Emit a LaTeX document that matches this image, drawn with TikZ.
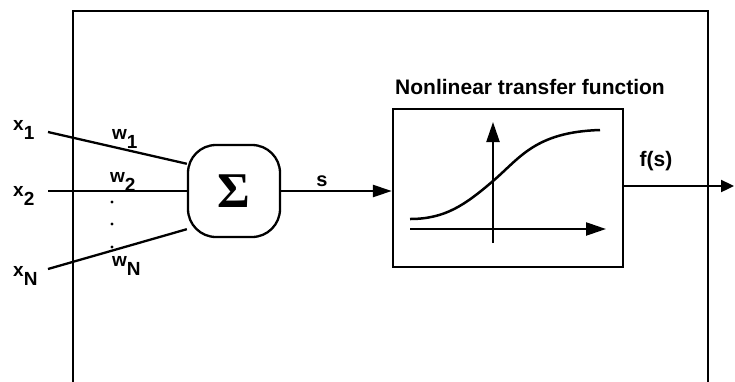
\documentclass[tikz,border=0pt]{standalone}
\usepackage{fontspec}
\setmainfont{Liberation Sans}
\newfontfamily\sigmafont{Liberation Serif}
\usetikzlibrary{arrows.meta}
\newcommand\sublab[2]{#1\raisebox{-9pt}{#2}}
\begin{document}
\begin{tikzpicture}[x=1pt,y=-1pt,
  conn/.style={line width=2.3pt},
  frame/.style={line width=2.6pt},
  lab/.style={inner sep=0pt,font=\fontsize{19}{19}\selectfont\bfseries},
  biglab/.style={inner sep=0pt,font=\fontsize{21}{21}\selectfont\bfseries},
  bigtip/.style={-{Triangle[length=19pt,width=12pt]}},
  smalltip/.style={-{Triangle[length=13pt,width=12pt]}},
  axtip/.style={-{Triangle[length=20pt,width=13pt]}},
  sumbox/.style={draw,line width=2.3pt,rounded corners=28pt,minimum width=92pt,minimum height=92pt,inner sep=0pt},
  tfbox/.style={draw,line width=2.3pt,minimum width=230pt,minimum height=158pt,inner sep=0pt}]
\useasboundingbox (0,0) rectangle (735,381);
% outer frame (open at the bottom)
\coordinate (fbl) at (73,383);
\coordinate (ftl) at (73,11);
\coordinate (ftr) at (708,11);
\coordinate (fbr) at (708,383);
\draw[frame] (fbl) -- (ftl) -- (ftr) -- (fbr);
% summation node
\node[sumbox] (sig) at (234,191) {\fontsize{50}{52}\sigmafont\bfseries\selectfont Σ};
% transfer function box
\node[tfbox] (tf) at (508,188) {};
\node[biglab,anchor=base] (title) at (530,94) {Nonlinear transfer function};
% inputs
\coordinate (x1s) at (48,132);
\coordinate (x2s) at (48,191);
\coordinate (xNs) at (48,269);
\draw[conn] (x1s) -- (sig.150);
\draw[conn] (x2s) -- (sig.west |- x2s);
\draw[conn] (xNs) -- (sig.219);
\node[lab,anchor=base west] (x1) at (13,130) {\sublab{x}{1}};
\node[lab,anchor=base west] (x2) at (13,196) {\sublab{x}{2}};
\node[lab,anchor=base west] (xN) at (13,276) {\sublab{x}{N}};
\node[lab,anchor=base west] (w1) at (112,139) {\sublab{w}{1}};
\node[lab,anchor=base west] (w2) at (110,182) {\sublab{w}{2}};
\node[lab,anchor=base west] (wN) at (112,266) {\sublab{w}{N}};
\fill (112,202) circle (1.7pt);
\fill (112,224) circle (1.7pt);
\fill (112,247) circle (1.7pt);
% s connection
\draw[conn,bigtip] (sig.east) -- (sig.east -| tf.west);
\node[lab,font=\fontsize{20}{20}\selectfont\bfseries,anchor=base] (s) at (322,186) {s};
% plot inside the box
\coordinate (vb) at (493,243);
\coordinate (vt) at (493,122);
\coordinate (hl) at (410,229);
\coordinate (hr) at (606,229);
\draw[conn,axtip] (vb) -- (vt);
\draw[conn,axtip] (hl) -- (hr);
\draw[line width=2.5pt] (410,219) .. controls (445,219) and (465,205) .. (493,181)
  .. controls (520,158) and (535,132) .. (600,130);
% output
\coordinate (out) at (734,186);
\draw[conn,smalltip] (tf.east |- out) -- (out);
\node[biglab,anchor=base] (fs) at (656,166) {f(s)};
\end{tikzpicture}
\end{document}
